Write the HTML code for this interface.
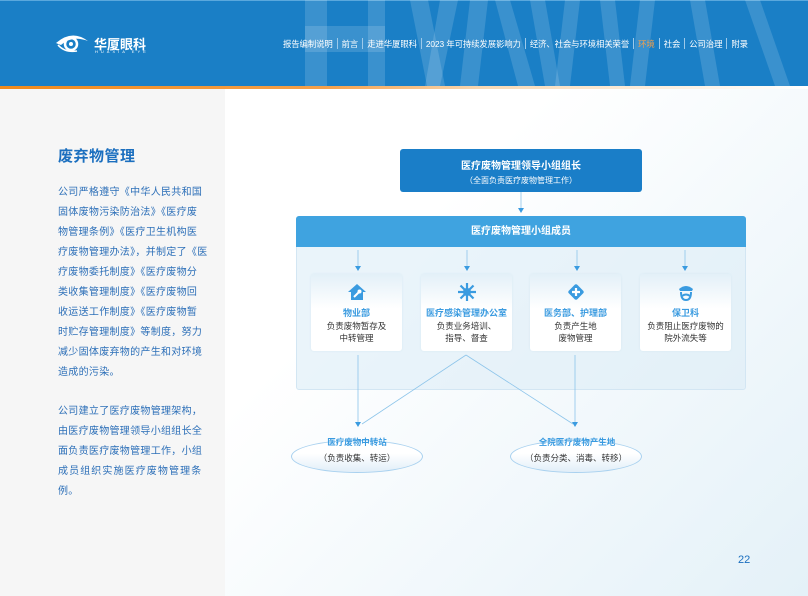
<!DOCTYPE html>
<html><head><meta charset="utf-8"><style>
*{margin:0;padding:0;box-sizing:border-box}
body{width:808px;height:596px;overflow:hidden;position:relative;font-family:"Liberation Sans","Noto Sans CJK SC",sans-serif;background:#fff}
.abs{position:absolute}
#hdr{left:0;top:0;width:808px;height:86px;background:#1a7fc6;overflow:hidden}
#hdr .top{left:0;top:0;width:808px;height:1px;background:#5aa8dd}
.nav{left:283px;top:38px;font-size:8.4px;color:#fff;white-space:nowrap;letter-spacing:-0.1px}
.nav span.s{display:inline-block;width:1px;height:11px;background:#9cc9ea;margin:0 4px;vertical-align:-2px}
#orange{left:0;top:86px;width:808px;height:3px;background:linear-gradient(90deg,#f08a1c 0%,#f5a04a 40%,#f8d9b5 60%,#ffffff 100%)}
#left{left:0;top:89px;width:225px;height:507px;background:#f6f6f6}
#right{left:225px;top:89px;width:583px;height:507px;background:linear-gradient(135deg,#ffffff 30%,#e4f1f8 100%)}
h1{position:absolute;left:58px;top:145px;font-size:15px;color:#1b6fbf;font-weight:bold;letter-spacing:0.5px}
.p{position:absolute;left:58px;font-size:10px;line-height:20px;color:#2c6fb8;letter-spacing:0.3px;white-space:nowrap}
.box{position:absolute;border-radius:3px;text-align:center}
.sub{position:absolute;top:274px;width:91px;height:77px;background:linear-gradient(#e3f0f8,#fff 45%);border-radius:3px;text-align:center;box-shadow:0 0 2px #d6e8f3}
.sub .t{position:absolute;top:32px;width:100%;font-size:9px;font-weight:bold;color:#3a9be0}
.sub .d{position:absolute;top:46px;width:100%;font-size:8.5px;line-height:12px;color:#333}
.sub .i{position:absolute;top:8px;left:36px;width:20px;height:20px}
.ell{position:absolute;width:132px;height:33px;border-radius:50%;background:linear-gradient(#fff 40%,#e1eef8);border:1px solid #a9d1ef;text-align:center;font-size:8.5px;color:#333}
.el{position:absolute;font-size:8.5px;font-weight:bold;color:#3a9be0;text-align:center;width:140px;z-index:2}
</style></head><body>
<div id="hdr" class="abs">
<div class="abs top"></div>
<svg class="abs" style="left:0;top:0" width="808" height="86">
<g fill="rgba(255,255,255,0.14)">
<rect x="305" y="0" width="22" height="86"/>
<rect x="305" y="26" width="80" height="26"/>
<rect x="368" y="0" width="17" height="86"/>
<polygon points="410,0 428,0 445,86 427,86"/>
<polygon points="440,0 458,0 440,86 425,86"/>
<polygon points="470,0 488,0 478,86 460,86"/>
<polygon points="495,0 510,0 535,86 518,86"/>
<polygon points="530,0 545,0 560,86 545,86"/>
<polygon points="565,0 580,0 570,86 555,86"/>
<polygon points="600,0 615,0 625,86 610,86"/>
<polygon points="640,0 655,0 645,86 630,86"/>
<polygon points="690,0 705,0 720,86 705,86"/>
<polygon points="745,0 760,0 790,86 775,86"/>
</g>
</svg>
<svg class="abs" style="left:55px;top:33px" width="34" height="20"><path d="M1 10 Q17 -4 33 8 Q17 2 6 12 Q3 11 1 10Z" fill="#fff"/><circle cx="16" cy="11" r="6" fill="none" stroke="#fff" stroke-width="2.5"/><circle cx="16" cy="11" r="2" fill="#fff"/><path d="M3 12 Q10 20 22 18" fill="none" stroke="#fff" stroke-width="1.5"/></svg>
<div class="abs" style="left:94px;top:34px;font-size:13px;font-weight:bold;color:#fff">华厦眼科</div>
<div class="abs" style="left:95px;top:49px;font-size:4px;color:#fff;letter-spacing:3px">HUAXIA EYE</div>
<div class="abs nav">报告编制说明<span class="s"></span>前言<span class="s"></span>走进华厦眼科<span class="s"></span>2023 年可持续发展影响力<span class="s"></span>经济、社会与环境相关荣誉<span class="s"></span><span style="color:#f5a04a">环境</span><span class="s"></span>社会<span class="s"></span>公司治理<span class="s"></span>附录</div>
</div>
<div id="orange" class="abs"></div>
<div id="left" class="abs"></div>
<div id="right" class="abs"></div>
<h1>废弃物管理</h1>
<div class="p" style="top:183px">公司严格遵守《中华人民共和国<br>固体废物污染防治法》《医疗废<br>物管理条例》《医疗卫生机构医<br>疗废物管理办法》，并制定了《医<br>疗废物委托制度》《医疗废物分<br>类收集管理制度》《医疗废物回<br>收运送工作制度》《医疗废物暂<br>时贮存管理制度》等制度，努力<br>减少固体废弃物的产生和对环境<br>造成的污染。</div>
<div class="p" style="top:402px">公司建立了医疗废物管理架构，<br>由医疗废物管理领导小组组长全<br>面负责医疗废物管理工作，小组<br><span style="letter-spacing:1.1px">成员组织实施医疗废物管理条</span><br>例。</div>

<div class="box" style="left:400px;top:149px;width:242px;height:43px;background:#1a7ec8;color:#fff">
<div style="font-size:10px;font-weight:bold;margin-top:8px">医疗废物管理领导小组组长</div>
<div style="font-size:8px;margin-top:3px">（全面负责医疗废物管理工作）</div></div>
<div class="box" style="left:296px;top:216px;width:450px;height:174px;background:rgba(220,236,247,.6);border:1px solid #d3e6f3"></div>
<div class="box" style="left:296px;top:216px;width:450px;height:31px;background:#3fa3e0;color:#fff;font-size:10px;font-weight:bold;line-height:31px;border-radius:3px 3px 0 0">医疗废物管理小组成员</div>

<svg class="abs" style="left:0;top:0" width="808" height="596">
<g stroke="#8cc4ea" stroke-width="0.8" fill="none">
<line x1="521" y1="192" x2="521" y2="208"/>
<line x1="358" y1="250" x2="358" y2="266"/>
<line x1="467" y1="250" x2="467" y2="266"/>
<line x1="577" y1="250" x2="577" y2="266"/>
<line x1="685" y1="250" x2="685" y2="266"/>
<line x1="358" y1="355" x2="358" y2="422"/>
<line x1="575" y1="355" x2="575" y2="422"/>
<line x1="466" y1="355" x2="362" y2="424"/>
<line x1="466" y1="355" x2="573" y2="424"/>
</g>
<g fill="#3a9be0">
<polygon points="518,208 524,208 521,213"/>
<polygon points="355,266 361,266 358,271"/>
<polygon points="464,266 470,266 467,271"/>
<polygon points="574,266 580,266 577,271"/>
<polygon points="682,266 688,266 685,271"/>
<polygon points="355,422 361,422 358,427"/>
<polygon points="572,422 578,422 575,427"/>
</g>
</svg>

<div class="sub" style="left:311px">
<svg class="i" viewBox="0 0 20 20"><path d="M10 2 L19 10 L16 10 L16 18 L4 18 L4 10 L1 10Z" fill="#3a9be0"/><path d="M7 15 L12 10" stroke="#fff" stroke-width="2"/><circle cx="12.5" cy="9.5" r="2" fill="#fff"/></svg>
<div class="t">物业部</div><div class="d">负责废物暂存及<br>中转管理</div></div>
<div class="sub" style="left:421px">
<svg class="i" viewBox="0 0 20 20"><g stroke="#3a9be0" stroke-width="2.2"><line x1="10" y1="1" x2="10" y2="19"/><line x1="1" y1="10" x2="19" y2="10"/><line x1="3.5" y1="3.5" x2="16.5" y2="16.5"/><line x1="16.5" y1="3.5" x2="3.5" y2="16.5"/></g><circle cx="10" cy="10" r="4" fill="#3a9be0"/></svg>
<div class="t">医疗感染管理办公室</div><div class="d">负责业务培训、<br>指导、督查</div></div>
<div class="sub" style="left:530px">
<svg class="i" viewBox="0 0 20 20"><rect x="4" y="4" width="12" height="12" rx="2" transform="rotate(45 10 10)" fill="#3a9be0"/><path d="M10 6v8M6 10h8" stroke="#fff" stroke-width="2.2"/></svg>
<div class="t">医务部、护理部</div><div class="d">负责产生地<br>废物管理</div></div>
<div class="sub" style="left:640px">
<svg class="i" viewBox="0 0 20 20"><path d="M3 7 Q10 1 17 7 L16 9 L4 9Z" fill="#3a9be0"/><path d="M5 10 Q5 18 10 18 Q15 18 15 10" fill="none" stroke="#3a9be0" stroke-width="2"/><path d="M6 14 Q10 11 14 14" fill="none" stroke="#3a9be0" stroke-width="2"/></svg>
<div class="t">保卫科</div><div class="d">负责阻止医疗废物的<br>院外流失等</div></div>

<div class="ell" style="left:291px;top:440px;line-height:12px;padding-top:11px">（负责收集、转运）</div>
<div class="el" style="left:287px;top:436px">医疗废物中转站</div>
<div class="ell" style="left:510px;top:440px;line-height:12px;padding-top:11px">（负责分类、消毒、转移）</div>
<div class="el" style="left:507px;top:436px">全院医疗废物产生地</div>

<div class="abs" style="left:738px;top:554px;font-size:11px;color:#1b6fbf">22</div>
</body></html>
